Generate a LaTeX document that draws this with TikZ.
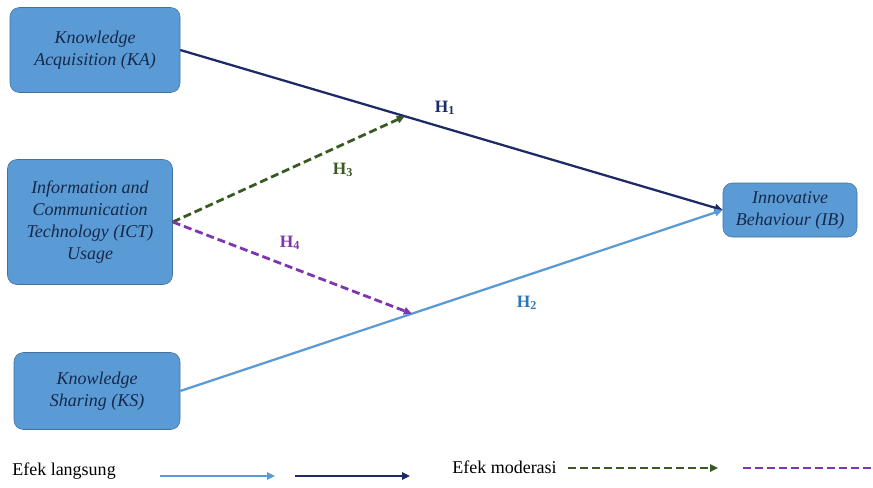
\documentclass[tikz,border=0pt]{standalone}
\usepackage{fontspec}
\setmainfont{Liberation Serif}
\usetikzlibrary{arrows.meta,positioning,calc}
\definecolor{boxblue}{HTML}{5B9BD5}
\definecolor{boxline}{HTML}{41719C}
\definecolor{textnavy}{HTML}{16284A}
\definecolor{navy}{HTML}{1C2A66}
\definecolor{sky}{HTML}{5B9BD5}
\definecolor{skytext}{HTML}{2E75B6}
\definecolor{moss}{HTML}{3A5A24}
\definecolor{violet}{HTML}{7E35B0}

\begin{document}
\begin{tikzpicture}[
  x=0.75pt, y=-0.75pt,
  font=\fontsize{13.5}{16.5}\selectfont,
  construct/.style={draw=boxline, fill=boxblue, rounded corners=7pt, align=center, text=textnavy, font=\fontsize{13.5}{16.5}\selectfont\itshape, inner sep=2pt},
  direct/.style={-{Triangle[length=6pt,width=5.5pt]}, line width=1.7pt},
  moder/.style={-{Triangle[length=6pt,width=5.5pt]}, line width=2.1pt, dash pattern=on 6pt off 3pt},
  hyp/.style={font=\fontsize{13}{15}\selectfont\bfseries}
]
\useasboundingbox (0,0) rectangle (873,487);
\clip (0,0) rectangle (873,487);

\node[construct, minimum width=127.5pt, minimum height=63.75pt] (ka) at (95,50) {Knowledge\\Acquisition (KA)};
\node[construct, minimum width=123.75pt, minimum height=93.75pt] (ict) at (90,222) {Information and\\Communication\\Technology (ICT)\\Usage};
\node[construct, minimum width=124.5pt, minimum height=57.75pt] (ks) at (97,391) {Knowledge\\Sharing (KS)};
\node[construct, minimum width=100.5pt, minimum height=40.5pt] (ib) at (790,210) {Innovative\\Behaviour (IB)};

\coordinate (m1) at ($(ka.east)!0.414!(ib.west)$);
\coordinate (m2) at ($(ks.east)!0.427!(ib.west)$);

\draw[direct, navy] (ka.east) -- (ib.west);
\draw[direct, sky] (ks.east) -- (ib.west);
\draw[moder, moss] (ict.east) -- (m1);
\draw[moder, violet] (ict.east) -- (m2);

\node[hyp, text=navy] (h1) at (445,108) {H\textsubscript{1}};
\node[hyp, text=skytext] (h2) at (527,303) {H\textsubscript{2}};
\node[hyp, text=moss] (h3) at (343,170) {H\textsubscript{3}};
\node[hyp, text=violet] (h4) at (290,243) {H\textsubscript{4}};

\node[anchor=west, inner sep=0pt] (leg1) at (12,471) {Efek langsung};
\node[anchor=west, inner sep=0pt] (leg2) at (452,467) {Efek moderasi};
\coordinate (a1) at (160,476);
\coordinate (b1) at (275,476);
\coordinate (a2) at (295,476);
\coordinate (b2) at (410,476);
\coordinate (a3) at (568,468);
\coordinate (b3) at (718,468);
\coordinate (a4) at (743,468);
\coordinate (b4) at (893,468);
\draw[direct, sky] (a1) -- (b1);
\draw[direct, navy] (a2) -- (b2);
\draw[moder, moss] (a3) -- (b3);
\draw[moder, violet] (a4) -- (b4);
\end{tikzpicture}
\end{document}
